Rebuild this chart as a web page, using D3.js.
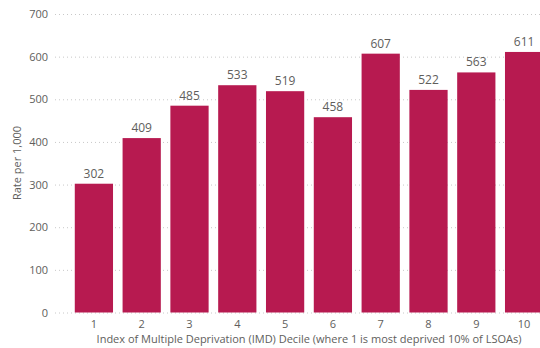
<!DOCTYPE html>
<html>
<head>
<meta charset="utf-8">
<script src="https://cdn.jsdelivr.net/npm/d3@7"></script>
<style>
  body { margin: 0; background: #fff; }
  svg { display: block; font-family: "Segoe UI", "Open Sans", sans-serif; }
</style>
</head>
<body>
<svg id="chart" width="540" height="348"></svg>
<script>
const deciles = ["1", "2", "3", "4", "5", "6", "7", "8", "9", "10"];
const rates = [302, 409, 485, 533, 519, 458, 607, 522, 563, 611];
const yTicks = [0, 100, 200, 300, 400, 500, 600, 700];

const width = 540, height = 348;
const margin = {top: 14, right: -8, bottom: 35.5, left: 70};
const barColor = "#b71a50";
const textColor = "#605e5c";

const svg = d3.select("#chart");
const data = deciles.map((d, i) => ({decile: d, rate: rates[i]}));

const x = d3.scaleBand()
    .domain(deciles)
    .range([margin.left, width - margin.right])
    .paddingInner(0.2)
    .paddingOuter(0.1);

const y = d3.scaleLinear()
    .domain([0, 700])
    .range([height - margin.bottom, margin.top]);

// gridlines + y labels
const yAxis = svg.append("g")
    .attr("transform", "translate(55,0)")
    .call(d3.axisLeft(y).tickValues(yTicks).tickSize(0).tickPadding(7)
        .tickFormat(d3.format(",")));
yAxis.select(".domain").remove();
yAxis.selectAll("text")
    .attr("fill", textColor)
    .style("font-size", "11px")
    .style("font-family", "\"Segoe UI\", \"Open Sans\", sans-serif");
yAxis.selectAll(".tick line")
    .attr("x2", width - 55)
    .attr("stroke", "#c8c8c8")
    .attr("stroke-dasharray", "1,3");

// bars
svg.append("g")
    .selectAll("rect")
    .data(data)
    .enter().append("rect")
        .attr("x", d => x(d.decile))
        .attr("y", d => y(d.rate))
        .attr("width", x.bandwidth())
        .attr("height", d => y(0) - y(d.rate))
        .attr("fill", barColor);

// data labels
svg.append("g")
    .attr("text-anchor", "middle")
    .attr("fill", textColor)
    .style("font-size", "12px")
    .selectAll("text")
    .data(data)
    .enter().append("text")
        .attr("x", d => x(d.decile) + x.bandwidth() / 2)
        .attr("y", d => y(d.rate) - 6)
        .text(d => d.rate);

// x axis labels
const xAxis = svg.append("g")
    .attr("transform", `translate(0,${y(0)})`)
    .call(d3.axisBottom(x).tickSize(0).tickPadding(8));
xAxis.select(".domain").remove();
xAxis.selectAll("text")
    .attr("fill", textColor)
    .style("font-size", "11px")
    .style("font-family", "\"Segoe UI\", \"Open Sans\", sans-serif");

// axis titles
svg.append("text")
    .attr("x", 309)
    .attr("y", 343)
    .attr("text-anchor", "middle")
    .attr("fill", textColor)
    .style("font-size", "11px")
    .text("Index of Multiple Deprivation (IMD) Decile (where 1 is most deprived 10% of LSOAs)");

svg.append("text")
    .attr("transform", "translate(21,163) rotate(-90)")
    .attr("text-anchor", "middle")
    .attr("fill", textColor)
    .style("font-size", "11px")
    .text("Rate per 1,000");
</script>
</body>
</html>
